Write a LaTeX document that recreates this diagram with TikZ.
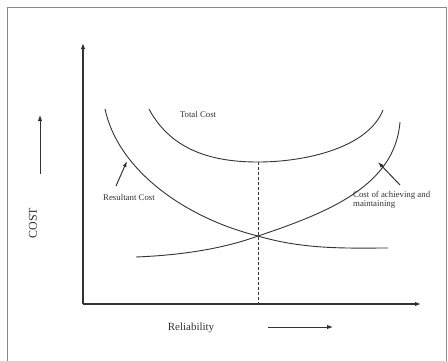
\documentclass[tikz,border=0pt]{standalone}
\usepackage{fontspec}
\setmainfont{Liberation Serif}
\usetikzlibrary{arrows.meta}
\definecolor{ink}{HTML}{333333}
\definecolor{framegray}{HTML}{8A8A8A}
\begin{document}
\begin{tikzpicture}[x=1pt,y=-1pt,
  axis/.style={draw=ink,line width=1.1pt,-{Latex[length=6pt,width=4.5pt]}},
  curve/.style={draw=ink,line width=0.9pt},
  pointer/.style={draw=ink,line width=1pt,-{Latex[length=6pt,width=4pt]}},
  small/.style={text=ink,font=\fontsize{8.8}{10}\selectfont,inner sep=0pt},
  big/.style={text=ink,inner sep=0pt}]
\useasboundingbox (0,0) rectangle (448,360);
% page frame
\draw[framegray,line width=0.9pt] (7,362) -- (7,7) -- (446,7) -- (446,362);

% axes
\coordinate (O) at (83,304);
\coordinate (ytip) at (83,43);
\coordinate (xtip) at (421,304);
\draw[axis] (O) -- (ytip);
\draw[axis] (O) -- (xtip);

% axis captions with direction arrows
\node[big,font=\fontsize{12}{14}\selectfont,rotate=90] (cost) at (33,223) {COST};
\coordinate (cup0) at (40,174);
\coordinate (cup1) at (40,115);
\draw[axis,line width=1pt] (cup0) -- (cup1);
\node[big,font=\fontsize{11}{13}\selectfont] (rel) at (191,328) {Reliability};
\coordinate (rar0) at (268,327);
\coordinate (rar1) at (333,327);
\draw[axis,line width=1pt] (rar0) -- (rar1);

% curves
\coordinate (tmin) at (258,162);
\coordinate (cross) at (258,236);
\draw[curve] (149,109) .. controls (172,152) and (215,162) .. (tmin)
  .. controls (305,162) and (368,148) .. (383,110);
\draw[curve] (105,109) .. controls (118,170) and (185,218) .. (cross)
  .. controls (305,250) and (350,248) .. (388,248);
\draw[curve] (136,257) .. controls (185,255) and (225,248) .. (cross)
  .. controls (330,212) and (395,185) .. (400,122);

% optimum marker
\coordinate (base) at (258,304);
\draw[ink,line width=0.8pt,dash pattern=on 3pt off 2pt] (tmin) -- (base);

% labels
\node[small] (total) at (198,114) {Total Cost};
\node[small] (res) at (129,197) {Resultant Cost};
\node[small,align=left,anchor=north west] (ach) at (353,191)
  {Cost of achieving and\\[-1pt]maintaining};
\coordinate (resA) at (116,186);
\coordinate (resB) at (127,161);
\draw[pointer] (resA) -- (resB);
\coordinate (achA) at (400,185);
\coordinate (achB) at (378,162);
\draw[pointer] (achA) -- (achB);
\end{tikzpicture}
\end{document}
